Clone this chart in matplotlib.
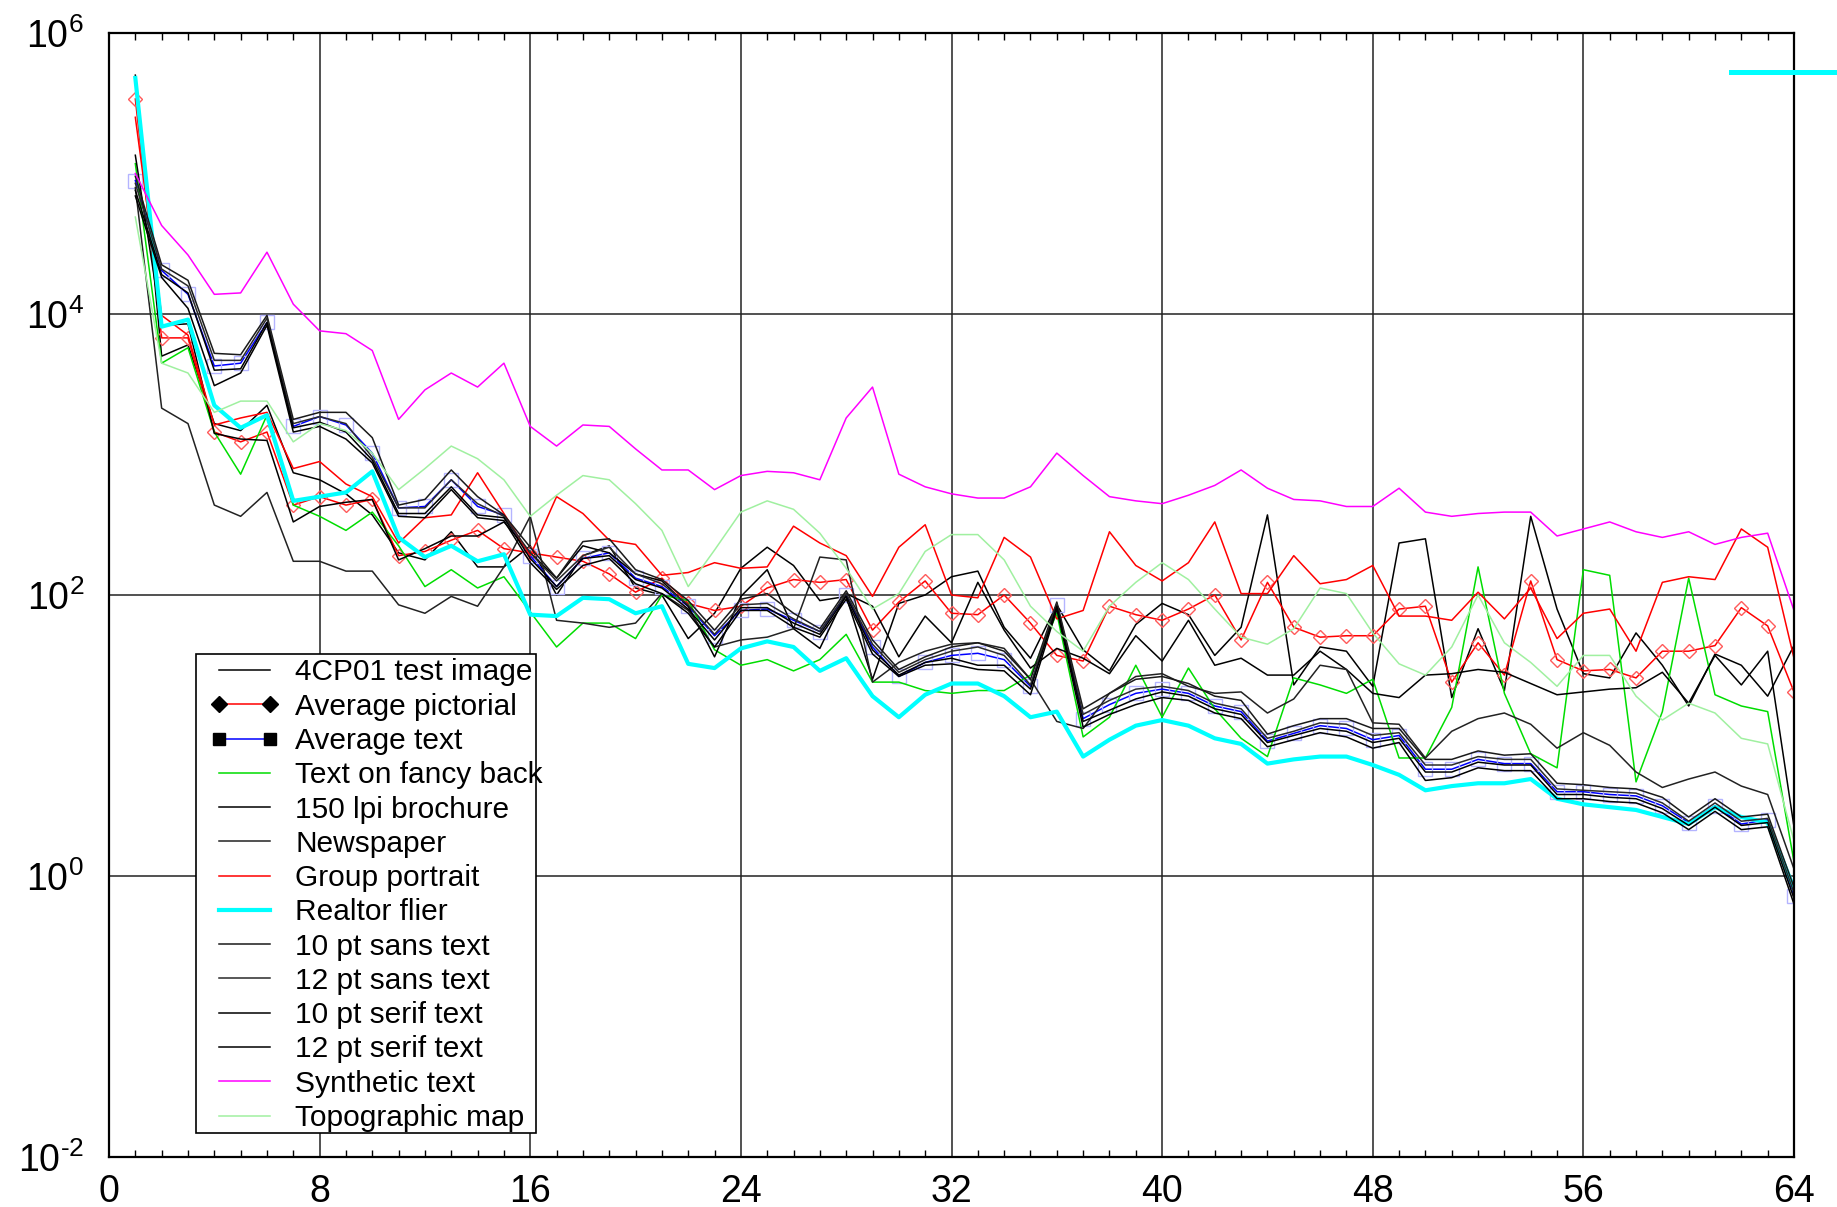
import numpy as np
import matplotlib
matplotlib.use("Agg")
import matplotlib.pyplot as plt
from matplotlib.lines import Line2D
from matplotlib.patches import Rectangle
from matplotlib.ticker import FixedLocator, MultipleLocator, NullLocator, FixedFormatter

# Coefficient index (1..64)
coef = np.arange(1, 65)

# Mean energy per coefficient, stored as log10 values
log_4cp01 = [5.70, 3.70, 3.78, 3.22, 3.17, 3.35, 2.87, 2.82, 2.72, 2.57, 2.30,
             2.25, 2.45, 2.20, 2.20, 2.35, 2.00, 2.28, 2.35, 2.05, 2.00,
             1.69, 1.87, 2.19, 2.34, 2.21, 1.96, 1.99, 1.40, 1.94, 2.00, 2.13,
             2.17, 1.77, 1.55, 1.93, 1.61, 1.46, 1.79, 1.94, 1.86, 1.57,
             1.77, 2.57, 1.36, 1.63, 1.60, 1.35, 2.37, 2.40, 1.27, 1.76, 1.32,
             2.56, 1.90, 1.44, 1.41, 1.73, 1.50, 1.21, 1.58, 1.50, 1.28, 1.64]
log_avg_pictorial = [5.53, 3.83, 3.83, 3.16, 3.09, 3.16, 2.64, 2.70, 2.64, 2.68,
                     2.28, 2.31, 2.39, 2.46, 2.33, 2.30, 2.27, 2.24, 2.15, 2.02,
                     2.12, 1.94, 1.89, 1.92, 2.05, 2.11, 2.09, 2.11, 1.75, 1.95,
                     2.10, 1.87, 1.86, 2.00, 1.80, 1.57, 1.53, 1.92, 1.86, 1.82,
                     1.90, 2.00, 1.68, 2.09, 1.77, 1.70, 1.71, 1.71, 1.90, 1.92,
                     1.38, 1.66, 1.43, 2.10, 1.54, 1.46, 1.47, 1.41, 1.60, 1.60,
                     1.64, 1.91, 1.78, 1.31]
log_avg_text = [4.95, 4.31, 4.14, 3.63, 3.65, 3.94, 3.20, 3.27, 3.21, 3.01,
                2.62, 2.63, 2.82, 2.63, 2.57, 2.28, 2.06, 2.26, 2.30, 2.12,
                2.06, 1.92, 1.71, 1.89, 1.90, 1.82, 1.74, 2.00, 1.63, 1.42,
                1.52, 1.57, 1.585, 1.54, 1.35, 1.93, 1.12, 1.22, 1.30, 1.33,
                1.30, 1.21, 1.17, 0.96, 1.015, 1.07, 1.05, 0.97, 1.00, 0.76,
                0.76, 0.83, 0.80, 0.80, 0.60, 0.60, 0.58, 0.57, 0.50, 0.38,
                0.50, 0.37, 0.40, -0.14]
log_fancy_back = [5.07, 3.65, 3.76, 3.16, 2.86, 3.28, 2.64, 2.56, 2.46, 2.59,
                  2.35, 2.06, 2.18, 2.05, 2.13, 1.88, 1.63, 1.80, 1.80, 1.69,
                  2.00, 1.96, 1.61, 1.50, 1.54, 1.46, 1.54, 1.72, 1.38, 1.38,
                  1.32, 1.30, 1.32, 1.32, 1.43, 1.87, 0.99, 1.13, 1.50, 1.13,
                  1.48, 1.19, 0.98, 0.85, 1.41, 1.36, 1.30, 1.40, 0.84, 0.84,
                  1.20, 2.20, 1.30, 0.87, 0.77, 2.18, 2.14, 0.67, 1.17, 2.12,
                  1.29, 1.21, 1.17, 0.10]
log_brochure = [5.13, 3.92, 3.93, 3.15, 3.11, 3.10, 2.52, 2.63, 2.66, 2.68, 2.25,
                2.33, 2.42, 2.42, 2.52, 2.30, 2.12, 2.35, 2.30, 2.15, 2.10,
                1.92, 1.56, 1.99, 2.18, 1.76, 1.62, 2.01, 1.92, 1.56, 1.85, 1.66,
                2.09, 1.75, 1.48, 1.62, 1.55, 1.44, 1.71, 1.53, 1.82, 1.50,
                1.55, 1.43, 1.43, 1.60, 1.47, 1.30, 1.27, 1.43, 1.44, 1.47, 1.45,
                1.37, 1.29, 1.31, 1.33, 1.34, 1.45, 1.23, 1.57, 1.36, 1.60, 0.35]
log_newspaper = [4.90, 3.33, 3.22, 2.64, 2.56, 2.73, 2.24, 2.24, 2.17, 2.17, 1.93,
                 1.87, 1.99, 1.92, 2.20, 2.56, 1.82, 1.80, 1.77, 1.80, 2.01,
                 1.89, 1.63, 1.68, 1.70, 1.76, 2.27, 2.25, 1.38, 1.52, 1.60, 1.65,
                 1.66, 1.62, 1.40, 1.10, 1.05, 1.30, 1.42, 1.44, 1.35, 1.30,
                 1.31, 1.16, 1.26, 1.50, 1.47, 1.09, 1.08, 0.84, 1.03, 1.12, 1.16,
                 1.08, 0.91, 1.02, 0.93, 0.74, 0.63, 0.69, 0.74, 0.64, 0.58, 0.05]
log_group_portrait = [5.40, 3.99, 3.85, 3.21, 3.26, 3.30, 2.90, 2.95, 2.79, 2.70,
                      2.37, 2.55, 2.57, 2.87, 2.58, 2.28, 2.70, 2.58, 2.39, 2.36,
                      2.14, 2.16, 2.23, 2.19, 2.20, 2.49, 2.37, 2.28, 1.99, 2.34,
                      2.50, 2.00, 1.98, 2.41, 2.27, 1.83, 1.89, 2.45, 2.21, 2.10,
                      2.23, 2.52, 2.01, 2.01, 2.28, 2.08, 2.11, 2.21, 1.85, 1.85,
                      1.82, 2.02, 1.83, 2.05, 1.69, 1.87, 1.90, 1.60, 2.09, 2.13,
                      2.11, 2.47, 2.34, 1.55]
log_realtor = [5.68, 3.91, 3.96, 3.35, 3.19, 3.28, 2.67, 2.70, 2.73, 2.88,
               2.41, 2.27, 2.35, 2.24, 2.29, 1.86, 1.85, 1.98, 1.97, 1.87,
               1.92, 1.51, 1.48, 1.62, 1.67, 1.63, 1.46, 1.55, 1.28, 1.13,
               1.29, 1.37, 1.37, 1.28, 1.13, 1.17, 0.85, 0.97, 1.07, 1.11,
               1.07, 0.98, 0.94, 0.80, 0.83, 0.85, 0.85, 0.79, 0.72, 0.61,
               0.64, 0.66, 0.66, 0.69, 0.55, 0.51, 0.49, 0.47, 0.42, 0.37,
               0.49, 0.42, 0.38, -0.09]
log_sans10 = [4.98, 4.35, 4.24,
              3.72, 3.71, 3.99, 3.25, 3.30, 3.30, 3.12, 2.64,
              2.68, 2.89, 2.70, 2.57, 2.34, 2.12, 2.38, 2.40, 2.18, 2.11,
              1.96, 1.75, 1.97, 2.01, 1.87, 1.76, 2.03, 1.68, 1.47, 1.56, 1.63,
              1.66, 1.60, 1.40, 1.95, 1.19, 1.30, 1.40, 1.42, 1.37, 1.28, 1.25,
              1.01, 1.07, 1.12, 1.12, 1.05, 1.05, 0.83, 0.83, 0.89, 0.86,
              0.87, 0.66, 0.65, 0.63, 0.62, 0.56, 0.42, 0.55, 0.42, 0.44, -0.08]
log_sans12 = [4.93, 4.32, 4.20,
              3.67, 3.67, 3.97, 3.22, 3.27, 3.22, 2.98, 2.62,
              2.62, 2.82, 2.65, 2.56, 2.30, 2.10, 2.28, 2.34, 2.15, 2.08,
              1.93, 1.72, 1.93, 1.94, 1.83, 1.74, 2.01, 1.65, 1.45, 1.54, 1.60,
              1.63, 1.57, 1.36, 1.94, 1.15, 1.25, 1.33, 1.35, 1.32, 1.23, 1.19,
              0.98, 1.03, 1.09, 1.08, 1.00, 1.02, 0.79, 0.79, 0.85, 0.83,
              0.83, 0.62, 0.61, 0.60, 0.59, 0.52, 0.39, 0.52, 0.39, 0.41, -0.12]
log_serif10 = [4.88, 4.28, 4.15,
               3.60, 3.61, 3.94, 3.19, 3.23, 3.16, 2.96, 2.58,
               2.58, 2.77, 2.57, 2.55, 2.26, 2.06, 2.26, 2.28, 2.11, 2.05,
               1.90, 1.68, 1.91, 1.91, 1.80, 1.72, 1.99, 1.61, 1.43, 1.52, 1.55,
               1.50, 1.50, 1.33, 1.92, 1.10, 1.18, 1.26, 1.31, 1.28, 1.19, 1.15,
               0.95, 1.00, 1.05, 1.03, 0.95, 0.98, 0.74, 0.74, 0.81, 0.79,
               0.79, 0.58, 0.58, 0.56, 0.55, 0.48, 0.36, 0.49, 0.36, 0.38, -0.16]
log_serif12 = [4.84, 4.26, 4.04,
               3.49, 3.58, 3.92, 3.16, 3.20, 3.11, 2.94, 2.56,
               2.55, 2.75, 2.55, 2.53, 2.23, 2.04, 2.21, 2.26, 2.08, 2.01,
               1.87, 1.63, 1.89, 1.89, 1.77, 1.70, 1.97, 1.58, 1.42, 1.50, 1.51,
               1.47, 1.46, 1.29, 1.90, 1.06, 1.15, 1.22, 1.27, 1.25, 1.16, 1.12,
               0.92, 0.97, 1.02, 0.99, 0.91, 0.95, 0.68, 0.70, 0.77, 0.75,
               0.75, 0.55, 0.55, 0.53, 0.52, 0.45, 0.33, 0.46, 0.33, 0.35, -0.20]
log_synthetic = [5.00, 4.63, 4.42, 4.14, 4.15, 4.44, 4.07, 3.88, 3.86, 3.74,
                 3.25, 3.46, 3.58, 3.48, 3.65, 3.20, 3.06, 3.21, 3.20, 3.04,
                 2.89, 2.89, 2.75, 2.85, 2.88, 2.87, 2.82, 3.26, 3.48, 2.86,
                 2.77, 2.72, 2.69, 2.69, 2.77, 3.01, 2.85, 2.70, 2.67, 2.65,
                 2.71, 2.78, 2.89, 2.76, 2.68, 2.67, 2.63, 2.63, 2.76, 2.59,
                 2.56, 2.58, 2.59, 2.59, 2.42, 2.47, 2.52, 2.45, 2.41, 2.45,
                 2.36, 2.41, 2.44, 1.89]
log_topographic = [4.69, 3.65, 3.58, 3.30, 3.38, 3.38, 3.09, 3.22, 3.17, 3.01,
                   2.75, 2.90, 3.06, 2.97, 2.82, 2.56, 2.71, 2.85, 2.82, 2.65,
                   2.46, 2.06, 2.32, 2.59, 2.67, 2.61, 2.44, 2.19, 1.90, 2.01,
                   2.31, 2.43, 2.43, 2.25, 1.92, 1.74, 1.60, 1.92, 2.09, 2.23,
                   2.11, 1.90, 1.70, 1.65, 1.76, 2.05, 2.01, 1.73, 1.51, 1.43,
                   1.63, 2.00, 1.66, 1.52, 1.35, 1.57, 1.57, 1.28, 1.11, 1.23,
                   1.16, 0.98, 0.94, 0.25]

labels = ["4CP01 test image", "Average pictorial", "Average text",
          "Text on fancy back", "150 lpi brochure", "Newspaper",
          "Group portrait", "Realtor flier", "10 pt sans text",
          "12 pt sans text", "10 pt serif text", "12 pt serif text",
          "Synthetic text", "Topographic map"]
x_ticks = [0, 8, 16, 24, 32, 40, 48, 56, 64]
y_tick_exps = [-2, 0, 2, 4, 6]

data = [log_4cp01, log_avg_pictorial, log_avg_text, log_fancy_back,
        log_brochure, log_newspaper, log_group_portrait, log_realtor,
        log_sans10, log_sans12, log_serif10, log_serif12,
        log_synthetic, log_topographic]

base = dict(lw=1.1)
styles = [
    dict(color="black"),
    dict(color="#ff0000", marker="D", ms=7.6, mfc="none", mec="#ff5a5a", mew=1.0),
    dict(color="#0000ff", marker="s", ms=9.5, mfc="none", mec="#b4b4ff", mew=1.0),
    dict(color="#00dd00"),
    dict(color="black"),
    dict(color="#222222"),
    dict(color="#ff0000"),
    dict(color="#00ffff", lw=3.0),
    dict(color="#1a1a1a"),
    dict(color="#2a2a2a"),
    dict(color="black"),
    dict(color="black"),
    dict(color="#ff00ff"),
    dict(color="#a0f0a0"),
]

plt.rcParams["font.family"] = ["Liberation Sans", "DejaVu Sans"]
plt.rcParams["mathtext.default"] = "regular"

fig = plt.figure(figsize=(18.37, 12.07), dpi=100)
ax = fig.add_axes([109 / 1837, 1 - 1157 / 1207, (1794 - 109) / 1837, (1157 - 33) / 1207])

for i, (lab, vals, st) in enumerate(zip(labels, data, styles)):
    kw = dict(base)
    kw.update(st)
    ax.plot(coef, np.power(10.0, np.asarray(vals)), label=lab, zorder=2 + i * 0.01, **kw)

ax.set_yscale("log")
ax.set_xlim(0, 64)
ax.set_ylim(1e-2, 1e6)

ax.xaxis.set_major_locator(FixedLocator(x_ticks))
ax.xaxis.set_minor_locator(MultipleLocator(1))
ax.yaxis.set_major_locator(FixedLocator([10.0 ** e for e in y_tick_exps]))
ax.yaxis.set_minor_locator(NullLocator())
ytl = [r"$\mathregular{10^{%s}}$" % (("\u2010%d" % -e) if e < 0 else "%d" % e) for e in y_tick_exps]
ax.yaxis.set_major_formatter(FixedFormatter(ytl))

tick_font = ["Liberation Sans Narrow", "Liberation Sans", "DejaVu Sans"]
ax.tick_params(axis="x", which="major", direction="in", length=0, pad=12, labelsize=27)
ax.tick_params(axis="x", which="minor", direction="in", length=5, width=1.0,
               top=True, bottom=True, color="black")
ax.tick_params(axis="y", which="major", direction="in", length=0, pad=18, labelsize=27)
for t in ax.get_xticklabels() + ax.get_yticklabels():
    t.set_family(tick_font)

ax.grid(True, which="major", color="#222222", lw=1.1)
ax.set_axisbelow(True)
for sp in ax.spines.values():
    sp.set_linewidth(1.6)
    sp.set_color("black")

handles = []
for lab, st in zip(labels, styles):
    if lab == "Average pictorial":
        h = Line2D([], [], color="#ff0000", lw=1.1, marker="D", ms=8, mfc="black", mec="black")
    elif lab == "Average text":
        h = Line2D([], [], color="#0000ff", lw=1.1, marker="s", ms=9, mfc="black", mec="black")
    else:
        h = Line2D([], [], color=st["color"], lw=st.get("lw", 1.1))
    handles.append(h)

# key box (drawn separately so the longest label may run up to its edge)
ax.add_patch(Rectangle(((196 - 109) / 1685, (1157 - 1133) / 1124),
                       (536 - 196) / 1685, (1133 - 654) / 1124,
                       transform=ax.transAxes, facecolor="white",
                       edgecolor="black", lw=1.2, zorder=9))
leg = ax.legend(handles, labels, loc="lower left",
                bbox_to_anchor=((210 - 109) / 1685, (1157 - 1132) / 1124),
                borderaxespad=0, fontsize=21.5, numpoints=2, frameon=False,
                handlelength=2.3, handletextpad=0.55, labelspacing=0.21,
                borderpad=0.0)
leg.set_zorder(10)

# stray key sample at the top-right corner
fig.add_artist(Line2D([1731 / 1837, 1.0], [1 - 72 / 1207] * 2,
                      transform=fig.transFigure, color="#00ffff", lw=3.6))

fig.savefig("out.png", dpi=100)
